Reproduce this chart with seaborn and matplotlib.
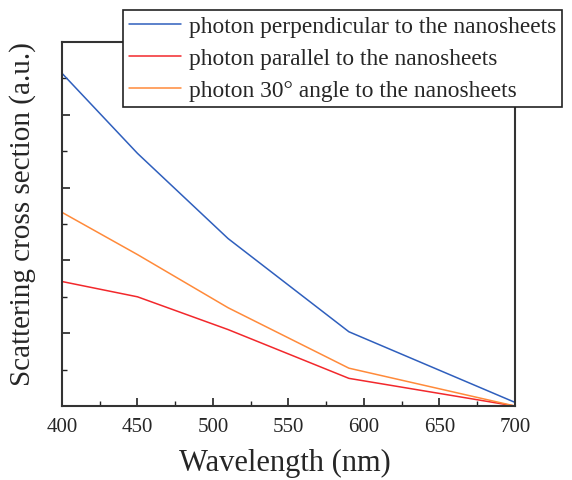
import matplotlib
matplotlib.use("Agg")
import matplotlib.pyplot as plt
import seaborn as sns
import pandas as pd
from matplotlib.ticker import MultipleLocator

wavelength = [400, 450, 510, 590, 700]
perpendicular = [4.57, 3.47, 2.30, 1.02, 0.05]
parallel = [1.71, 1.50, 1.05, 0.38, 0.0]
angle30 = [2.66, 2.08, 1.35, 0.52, 0.0]
labels = ["photon perpendicular to the nanosheets",
          "photon parallel to the nanosheets",
          "photon 30° angle to the nanosheets"]
colors = ["#2f5fbd", "#f2282c", "#ff8a3a"]

rows = []
for lab, vals in zip(labels, [perpendicular, parallel, angle30]):
    for w, v in zip(wavelength, vals):
        rows.append({"Wavelength": w, "Value": v, "Series": lab})
df = pd.DataFrame(rows)

sns.set_style("ticks")
plt.rcParams['font.family'] = ['Liberation Serif', 'DejaVu Serif']

fig = plt.figure(figsize=(5.72, 4.81), dpi=100)
ax = fig.add_axes([0.1084, 0.1538, 0.7919, 0.7568])
sns.lineplot(data=df, x="Wavelength", y="Value", hue="Series",
             hue_order=labels, palette=colors, linewidth=1.1, ax=ax,
             legend=True)

ax.set_xlim(400, 700)
ax.set_ylim(0, 5)
ax.xaxis.set_major_locator(MultipleLocator(50))
ax.xaxis.set_minor_locator(MultipleLocator(25))
ax.yaxis.set_major_locator(MultipleLocator(1))
ax.yaxis.set_minor_locator(MultipleLocator(0.5))
ax.set_yticklabels([])
ax.tick_params(axis='both', which='major', direction='in', length=6, width=1.2,
               labelsize=15, color='#222222', top=False, right=False)
ax.tick_params(axis='both', which='minor', direction='in', length=3.5, width=1.0,
               color='#222222', top=False, right=False)
ax.tick_params(axis='x', pad=8)
for s in ax.spines.values():
    s.set_linewidth(1.5)
    s.set_color('#333333')

ax.set_xlabel("Wavelength (nm)", fontsize=22)
ax.set_ylabel("Scattering cross section (a.u.)", fontsize=21)
ax.xaxis.set_label_coords(0.493, -0.115)
ax.yaxis.set_label_coords(-0.057, 0.53)

leg = ax.legend(loc='upper left', bbox_to_anchor=(0.1347, 1.088),
                borderaxespad=0, fontsize=16.8, frameon=True, fancybox=False,
                edgecolor='#222222', framealpha=1, handlelength=2.25,
                handletextpad=0.34, labelspacing=0.45, borderpad=0.25)
leg.get_frame().set_linewidth(1.2)
leg.set_zorder(10)

fig.savefig("out.png", dpi=100)
